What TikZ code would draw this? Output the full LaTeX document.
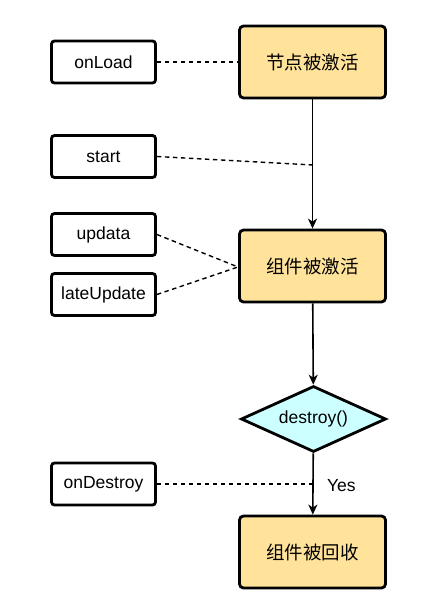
\documentclass[tikz,border=0pt]{standalone}
\usepackage{fontspec}
\setmainfont{Liberation Sans}
\newfontfamily\cjk{Noto Sans CJK SC}
\usetikzlibrary{shapes.geometric,arrows.meta}
\definecolor{boxyellow}{HTML}{FFE39B}
\definecolor{diacyan}{HTML}{CCFFFF}
\tikzset{
  x=1pt,y=-1pt,
  hookbox/.style={draw=black,line width=2.8pt,rounded corners=3pt,fill=white,minimum width=104pt,minimum height=42pt,inner sep=0pt,font=\fontsize{17.5}{19}\selectfont},
  statebox/.style={draw=black,line width=2.8pt,rounded corners=4pt,fill=boxyellow,minimum width=146pt,minimum height=72pt,inner sep=0pt,font=\cjk\fontsize{18.5}{20}\selectfont},
  decide/.style={diamond,aspect=2.15,draw=black,line width=2.8pt,fill=diacyan,inner sep=0pt,minimum width=145pt,minimum height=66pt,font=\fontsize{17.5}{19}\selectfont},
  flow/.style={line width=1.6pt,-{Stealth[length=10pt,width=9pt,inset=3pt]}},
  hook/.style={line width=1.4pt,dash pattern=on 4.5pt off 3.5pt},
}
\begin{document}
\begin{tikzpicture}
\useasboundingbox (0,0) rectangle (440,609);
\node[statebox] (act) at (312.5,62) {节点被激活};
\node[statebox] (comp) at (312.5,266) {组件被激活};
\node[decide] (des) at (313.5,419) {destroy()};
\node[statebox] (rec) at (312.5,552) {组件被回收};
\node[hookbox] (onload) at (103.5,62) {onLoad};
\node[hookbox] (start) at (103.5,156.5) {start};
\node[hookbox] (upd) at (103.5,234.5) {updata};
\node[hookbox] (late) at (103.5,294.5) {lateUpdate};
\node[hookbox] (ondes) at (103.5,484) {onDestroy};
\coordinate (sj) at (313,165);
\coordinate (uj) at (238,267);
\coordinate (dj) at (313,484);
\draw[flow] (act) -- (comp);
\draw[flow] (comp) -- (des);
\draw[flow] (des) -- node[pos=0.52,right=10pt,font=\fontsize{17.5}{19}\selectfont] (yes) {Yes} (rec);
\draw[hook] (onload) -- (act);
\draw[hook] (start.east) -- (sj);
\draw[hook] (upd.east) -- (uj);
\draw[hook] (late.east) -- (uj);
\draw[hook] (ondes.east) -- (dj);
\end{tikzpicture}
\end{document}
